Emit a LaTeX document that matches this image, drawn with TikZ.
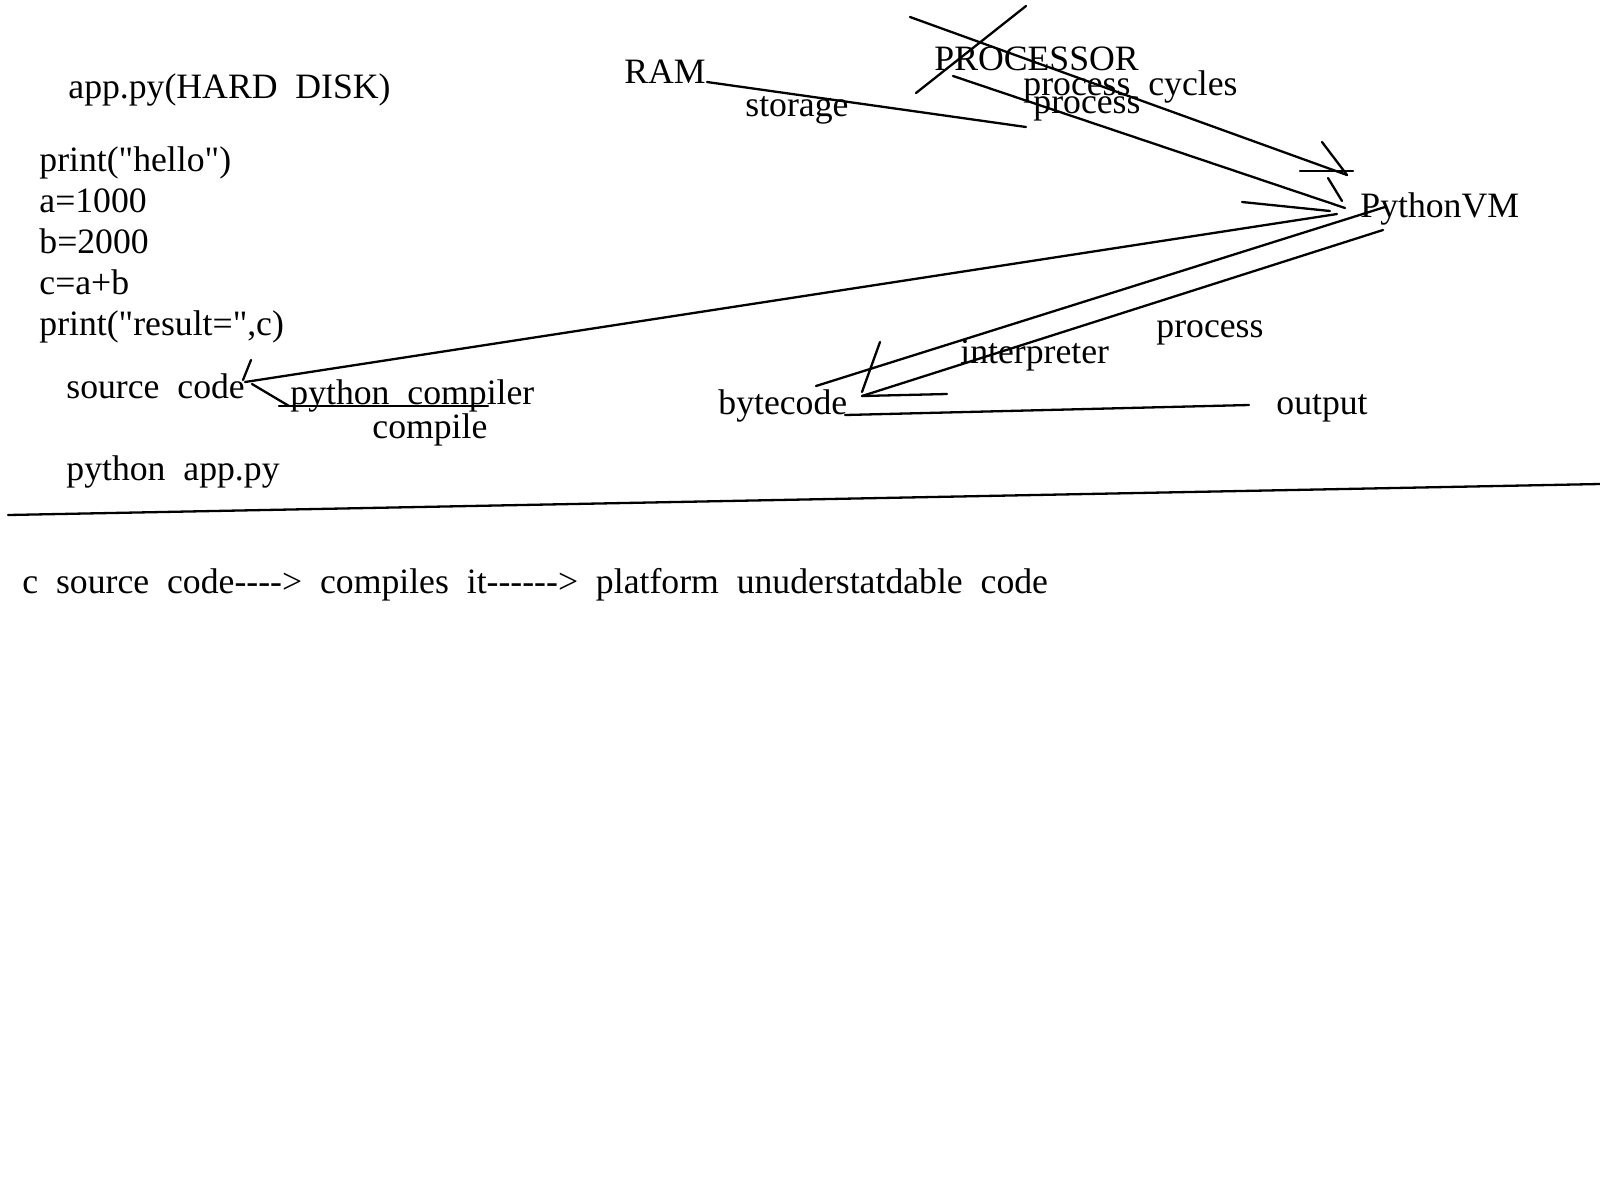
\documentclass[tikz,border=0pt]{standalone}
\usepackage{fontspec}
\newfontfamily\hw{Liberation Serif}[WordSpace=2]
\begin{document}
\begin{tikzpicture}[x=0.5pt,y=-0.5pt,
  txt/.style={anchor=base west, inner sep=0pt, font=\hw\fontsize{17.85}{21}\selectfont},
  ln/.style={line width=1.15pt, line cap=round}]
\useasboundingbox (0,0) rectangle (1600,1200);
\fill[white] (0,0) rectangle (1600,1200);
% texts
\node[txt] (hd) at (68,98) {app.py(HARD DISK)};
\node[txt] (l1) at (39,171) {print("hello")};
\node[txt] (l2) at (39,212) {a=1000};
\node[txt] (l3) at (39,253) {b=2000};
\node[txt] (l4) at (39,294) {c=a+b};
\node[txt] (l5) at (39,335) {print("result=",c)};
\node[txt] (src) at (66,398) {source code};
\node[txt] (pc) at (290,404) {python compiler};
\node[txt] (cmp) at (372,438) {compile};
\node[txt] (run) at (66,480) {python app.py};
\node[txt] (ram) at (624,83) {RAM};
\node[txt] (sto) at (745,116) {storage};
\node[txt] (cpu) at (934,70) {PROCESSOR};
\node[txt] (cyc) at (1023,95) {process cycles};
\node[txt] (prc) at (1033,113) {process};
\node[txt] (vm) at (1360,217) {PythonVM};
\node[txt] (prc2) at (1156,337) {process};
\node[txt] (int) at (960,363) {interpreter};
\node[txt] (bc) at (718,414) {bytecode};
\node[txt] (out) at (1276,414) {output};
\node[txt] (note) at (22,593) {c source code----> compiles it------> platform unuderstatdable code};
% coordinates
\coordinate (ramA) at (707,82);
\coordinate (ramB) at (1026,127);
\coordinate (xa) at (910,17);
\coordinate (xb) at (1347,175);
\coordinate (xc) at (1026,6);
\coordinate (xd) at (916,93);
\coordinate (pa) at (953,76);
\coordinate (pb) at (1345,208);
\coordinate (h1a) at (1322,142);
\coordinate (h2a) at (1300,171);
\coordinate (h2b) at (1353,171);
\coordinate (h3a) at (1328,178);
\coordinate (h3b) at (1342,201);
\coordinate (h4a) at (1242,202);
\coordinate (h4b) at (1330,211);
\coordinate (sa) at (245,382);
\coordinate (sb) at (1337,214);
\coordinate (ta) at (251,360);
\coordinate (tb) at (243,380);
\coordinate (ca) at (252,384);
\coordinate (cb) at (289,406);
\coordinate (ua) at (279,406);
\coordinate (ub) at (488,406);
\coordinate (ba) at (816,386);
\coordinate (bb) at (1385,207);
\coordinate (bta) at (880,342);
\coordinate (btb) at (862,392);
\coordinate (bc1) at (862,396);
\coordinate (bc2) at (1383,230);
\coordinate (bc3) at (947,394);
\coordinate (oa) at (845,415);
\coordinate (ob) at (1249,405);
\coordinate (sepa) at (8,515);
\coordinate (sepb) at (1600,484);
% lines
\draw[ln] (ramA) -- (ramB);
\draw[ln] (xa) -- (xb);
\draw[ln] (xc) -- (xd);
\draw[ln] (pa) -- (pb);
\draw[ln] (h1a) -- (xb);
\draw[ln] (h2a) -- (h2b);
\draw[ln] (h3a) -- (h3b);
\draw[ln] (h4a) -- (h4b);
\draw[ln] (sa) -- (sb);
\draw[ln] (ta) -- (tb);
\draw[ln] (ca) -- (cb);
\draw[ln] (ua) -- (ub);
\draw[ln] (ba) -- (bb);
\draw[ln] (bta) -- (btb);
\draw[ln] (bc1) -- (bc2);
\draw[ln] (bc1) -- (bc3);
\draw[ln] (oa) -- (ob);
\draw[ln] (sepa) -- (sepb);
\end{tikzpicture}
\end{document}
